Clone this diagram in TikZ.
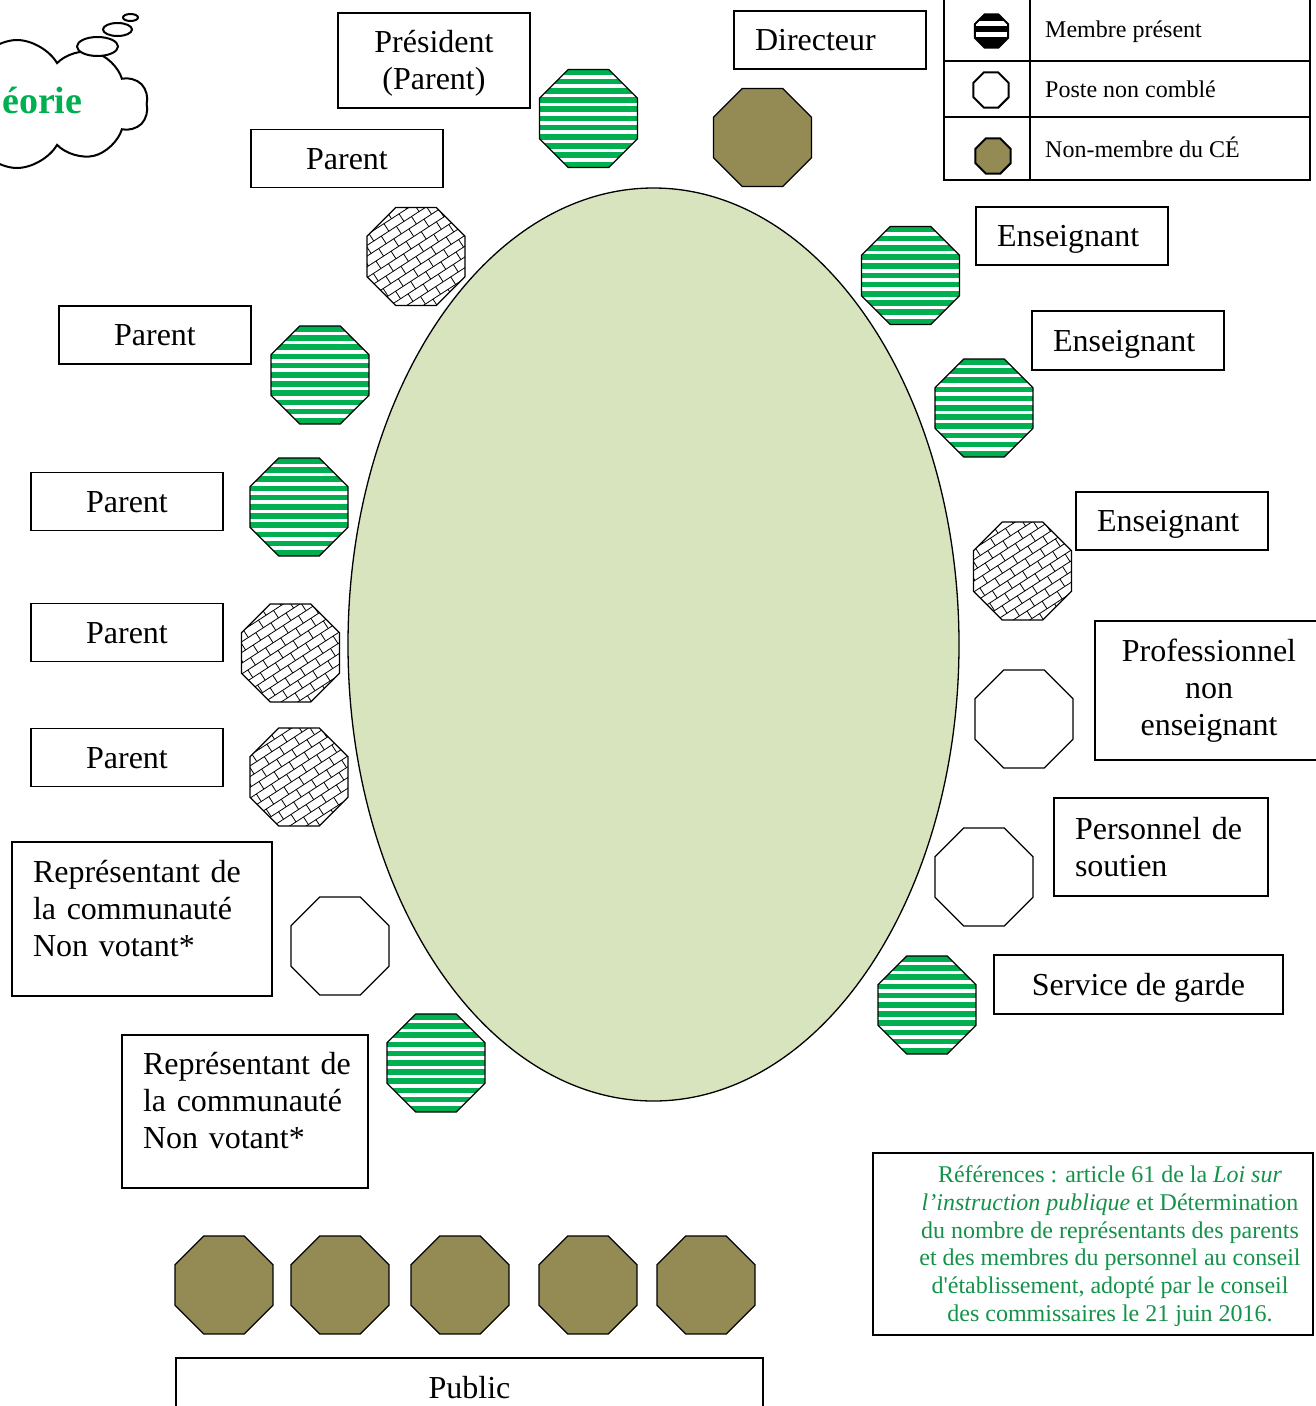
\documentclass[tikz,border=0pt]{standalone}
\usepackage{fontspec}
\setmainfont{Liberation Serif}[Ligatures=TeXOff]
\usetikzlibrary{shapes.geometric, shapes.symbols, calc}
\definecolor{vert}{HTML}{00B050}
\definecolor{vertref}{HTML}{14924A}
\definecolor{kaki}{HTML}{948A54}
\definecolor{tablevert}{HTML}{D7E4BD}
\tikzset{
  siege/.style={
    regular polygon,
    regular polygon sides=8,
    minimum size=106pt,
    inner sep=0pt,
    draw,
    line width=1.3pt},
  present/.style={siege, fill=white, path picture={
      \foreach \k in {0,...,10}
        \fill[vert] ([yshift=-\k*9.2pt]path picture bounding box.north west)
          rectangle ([yshift=-\k*9.2pt-5.6pt]path picture bounding box.north east);}},
  vacant/.style={siege, fill=white},
  absent/.style={siege, fill=kaki},
  brique/.style={siege, fill=white, path picture={
      \foreach \v in {-63,-54,...,63}
        \draw[line width=0.8pt] ($(path picture bounding box.center)+(123:\v pt)+(33:-70pt)$) -- ++(33:140pt);
      \foreach \u in {-72,-54,...,72} {
        \draw[line width=0.8pt, dash pattern=on 9pt off 9pt]
          ($(path picture bounding box.center)+(33:\u pt)+(123:-63pt)$) -- ++(123:130pt);
        \draw[line width=0.8pt, dash pattern=on 9pt off 9pt, dash phase=9pt]
          ($(path picture bounding box.center)+(33:\u pt+9pt)+(123:-63pt)$) -- ++(123:130pt);}}},
  picto/.style={siege, minimum size=38pt, line width=2pt},
  boite/.style={
    draw,
    line width=1.5pt,
    inner sep=0pt,
    font=\fontsize{32}{37}\selectfont},
  ligne/.style={text height=21pt, text depth=0pt},
  case/.style={boite, ligne, minimum width=192pt, minimum height=58pt},
  boiteg/.style={boite, align=left, text width=#1, inner xsep=21pt},
  legende/.style={anchor=base west, inner sep=0pt, font=\fontsize{24}{28}\selectfont},
  bulle/.style={ellipse, draw, fill=white, line width=2pt, inner sep=0pt}
}

\begin{document}
\begin{tikzpicture}[x=1pt, y=-1pt]
  \useasboundingbox (0,0) rectangle (1315,1406);

  % la table
  \node[ellipse, draw, fill=tablevert, line width=1.3pt, inner sep=0pt,
    minimum width=611pt, minimum height=913pt] (table) at (653.5,644.5) {};

  % les sieges
  \node[present] (spres) at (588.5,118.5) {};
  \node[absent] (sdir) at (762.5,137.5) {};
  \node[brique] (sp1) at (416,256.5) {};
  \node[present] (se1) at (910.5,275.5) {};
  \node[present] (sp2) at (320,375) {};
  \node[present] (se2) at (984,408) {};
  \node[present] (sp3) at (299,507) {};
  \node[brique] (se3) at (1022.5,571) {};
  \node[brique] (sp4) at (290.5,653) {};
  \node[vacant] (sprof) at (1024,719) {};
  \node[brique] (sp5) at (299,777) {};
  \node[vacant] (ssout) at (984,877) {};
  \node[vacant] (srep1) at (340,946) {};
  \node[present] (sgarde) at (927,1005) {};
  \node[present] (srep2) at (436,1063) {};
  \foreach \x [count=\i] in {224,340,460,588,706}
    \node[absent] (spub\i) at (\x,1285) {};

  % les postes
  \node[boite, align=center, minimum width=192pt, minimum height=95pt,
    text height=59pt, text depth=2pt] (president) at (434,60.5) {Président\\(Parent)};
  \node[boiteg=150pt, ligne, minimum height=58pt] (directeur) at (830,40) {Directeur};
  \node[case] (parent1) at (347,158.5) {Parent};
  \node[case] (parent2) at (155,335) {Parent};
  \node[case] (parent3) at (127,501.5) {Parent};
  \node[case] (parent4) at (127,632.5) {Parent};
  \node[case] (parent5) at (127,757.5) {Parent};
  \node[boiteg=150pt, ligne, minimum height=58pt] (ens1) at (1072,236) {Enseignant};
  \node[boiteg=150pt, ligne, minimum height=59pt] (ens2) at (1128,340.5) {Enseignant};
  \node[boiteg=150pt, ligne, minimum height=58pt] (ens3) at (1172,521) {Enseignant};
  \node[boite, align=center, minimum width=228pt, minimum height=139pt] (prof) at (1209,690.5) {Professionnel\\non\\enseignant};
  \node[boiteg=172pt, minimum height=98pt] (soutien) at (1161,847) {Personnel de\\soutien};
  \node[case, minimum width=289pt, minimum height=59pt] (garde) at (1138.5,984.5) {Service de garde};
  \node[boiteg=218pt, minimum height=154pt, text height=22pt, text depth=96pt] (repcomm1) at (142,919)
    {Représentant de\\la communauté\\Non votant*};
  \node[boiteg=204pt, minimum height=153pt, text height=22pt, text depth=97pt] (repcomm2) at (245,1111.5)
    {\mbox{Représentant de}\\la communauté\\Non votant*};
  \node[case, minimum width=587pt, minimum height=59pt] (public) at (469.5,1387.5) {Public};

  % references
  \node[draw, line width=1.5pt, minimum width=440pt, minimum height=182pt] (refs) at (1093,1244) {};
  \node[align=center, inner sep=0pt, text=vertref, font=\fontsize{24}{27.7}\selectfont] (refstexte) at (1110,1246)
    {Références : article 61 de la \textit{Loi sur}\\
     \textit{l’instruction publique} et Détermination\\
     du nombre de représentants des parents\\
     et des membres du personnel au conseil\\
     d'établissement, adopté par le conseil\\
     des commissaires le 21 juin 2016.};

  % legende
  \draw[line width=2pt] (944,-2) rectangle (1310,180);
  \draw[line width=2pt] (944,61) -- (1310,61);
  \draw[line width=2pt] (944,117) -- (1310,117);
  \draw[line width=2pt] (1030,-2) -- (1030,180);
  \node[picto, minimum size=36pt, fill=black, path picture={
      \fill[white] ([yshift=-7pt]path picture bounding box.north west)
        rectangle ([yshift=-12pt]path picture bounding box.north east);
      \fill[white] ([yshift=-18pt]path picture bounding box.north west)
        rectangle ([yshift=-23pt]path picture bounding box.north east);}] (lpresent) at (991.5,31) {};
  \node[picto, fill=white] (lvacant) at (991,90) {};
  \node[picto, fill=kaki] (labsent) at (993,156) {};
  \node[legende] (tpresent) at (1045,37) {Membre présent};
  \node[legende] (tvacant) at (1045,97) {Poste non comblé};
  \node[legende] (tabsent) at (1045,157) {Non-membre du CÉ};

  % nuage
  \node[cloud, cloud puffs=10, cloud puff arc=120, cloud ignores aspect, draw, fill=white,
    line width=2pt, inner sep=0pt, minimum width=262pt, minimum height=128pt] (nuage) at (17,104) {};
  \node[bulle, minimum width=41pt, minimum height=19pt] (bulle1) at (97.5,46.5) {};
  \node[bulle, minimum width=29pt, minimum height=13pt] (bulle2) at (117.5,29.5) {};
  \node[bulle, minimum width=15pt, minimum height=7pt] (bulle3) at (130.5,17.5) {};
  \node[anchor=base west, inner sep=0pt, text=vert, font=\fontsize{38}{44}\selectfont\bfseries] (theorie) at (2,113) {éorie};
\end{tikzpicture}
\end{document}
